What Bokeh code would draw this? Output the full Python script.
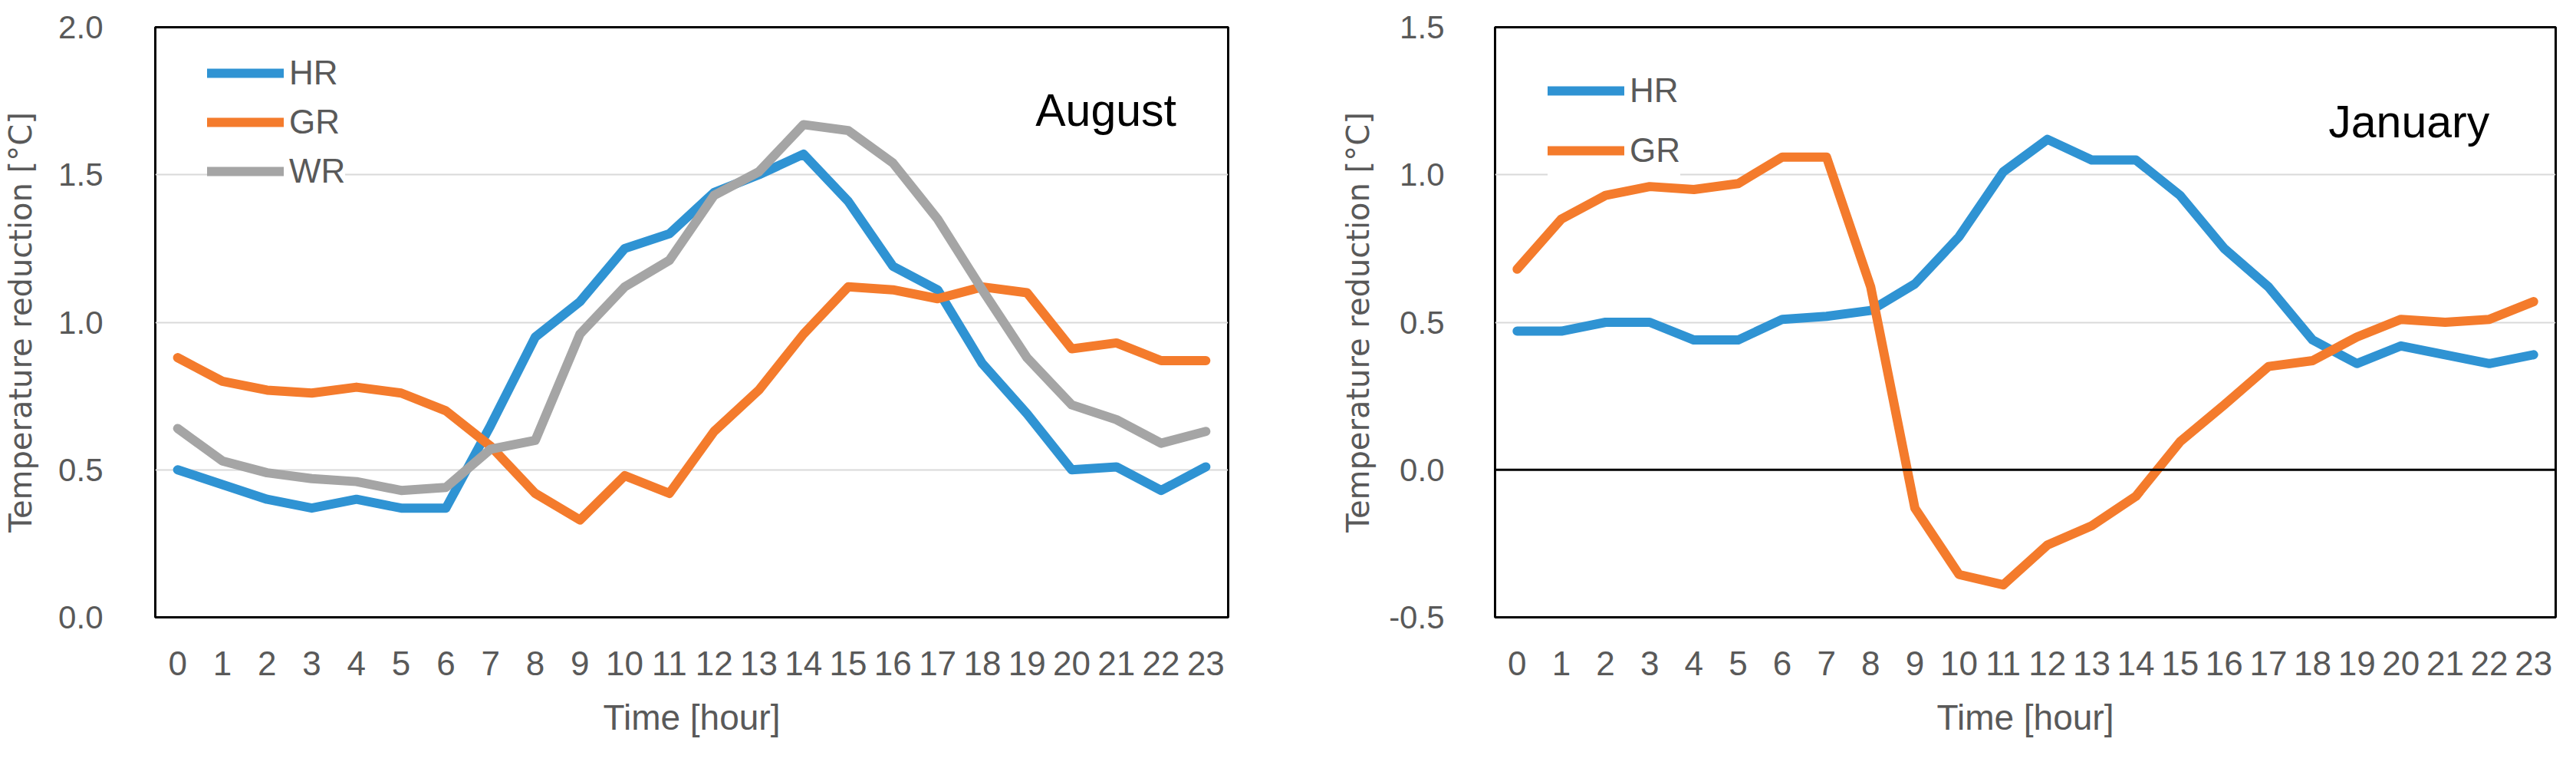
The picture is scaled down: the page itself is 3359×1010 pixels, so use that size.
from bokeh.plotting import figure
from bokeh.models import (FactorRange, Range1d, FixedTicker, NumeralTickFormatter,
                          Legend, LegendItem, Label, Span)
from bokeh.layouts import row
from bokeh.embed import file_html
from bokeh.resources import INLINE

hours = ["0", "1", "2", "3", "4", "5", "6", "7", "8", "9", "10", "11",
         "12", "13", "14", "15", "16", "17", "18", "19", "20", "21", "22", "23"]

aug_hr = [0.50, 0.45, 0.40, 0.37, 0.40, 0.37, 0.37, 0.65, 0.95, 1.07, 1.25, 1.30,
          1.44, 1.50, 1.57, 1.41, 1.19, 1.11, 0.86, 0.69, 0.50, 0.51, 0.43, 0.51]
aug_gr = [0.88, 0.80, 0.77, 0.76, 0.78, 0.76, 0.70, 0.58, 0.42, 0.33, 0.48, 0.42,
          0.63, 0.77, 0.96, 1.12, 1.11, 1.08, 1.12, 1.10, 0.91, 0.93, 0.87, 0.87]
aug_wr = [0.64, 0.53, 0.49, 0.47, 0.46, 0.43, 0.44, 0.57, 0.60, 0.96, 1.12, 1.21,
          1.43, 1.51, 1.67, 1.65, 1.54, 1.35, 1.11, 0.88, 0.72, 0.67, 0.59, 0.63]

jan_hr = [0.47, 0.47, 0.50, 0.50, 0.44, 0.44, 0.51, 0.52, 0.54, 0.63, 0.79, 1.01,
          1.12, 1.05, 1.05, 0.93, 0.75, 0.62, 0.44, 0.36, 0.42, 0.39, 0.36, 0.39]
jan_gr = [0.68, 0.85, 0.93, 0.96, 0.95, 0.97, 1.06, 1.06, 0.62, -0.13, -0.355, -0.39,
          -0.255, -0.19, -0.09, 0.095, 0.22, 0.35, 0.37, 0.45, 0.51, 0.50, 0.51, 0.57]

aug_ticks = [0.0, 0.5, 1.0, 1.5, 2.0]
jan_ticks = [-0.5, 0.0, 0.5, 1.0, 1.5]

BLUE = "#2f93d3"
ORANGE = "#f47b2c"
GRAY = "#a5a5a5"
TXT = "#595959"
FONT = "Liberation Sans"


def make_fig(width, height, ylo, yhi, ticks, grid, mbl, mbr, mbt, mbb):
    p = figure(width=width, height=height, x_range=FactorRange(factors=hours, range_padding=0),
               y_range=Range1d(ylo, yhi), output_backend="svg", toolbar_location=None,
               min_border_left=mbl, min_border_right=mbr, min_border_top=mbt, min_border_bottom=mbb)
    p.background_fill_color = "white"
    p.border_fill_color = "white"
    p.outline_line_color = "black"
    p.outline_line_width = 3
    p.outline_line_alpha = 1.0
    p.xgrid.grid_line_color = None
    p.ygrid.ticker = FixedTicker(ticks=grid)
    p.ygrid.grid_line_color = "#d9d9d9"
    p.ygrid.grid_line_width = 2
    p.yaxis.ticker = FixedTicker(ticks=ticks)
    p.yaxis.formatter = NumeralTickFormatter(format="0.0")
    for ax in (p.xaxis[0], p.yaxis[0]):
        ax.axis_line_color = None
        ax.major_tick_line_color = None
        ax.minor_tick_line_color = None
        ax.major_label_text_font = FONT
        ax.major_label_text_color = TXT
        ax.axis_label_text_color = TXT
        ax.axis_label_text_font_style = "normal"
    p.yaxis.major_label_text_font_size = "42px"
    p.xaxis.major_label_text_font_size = "44px"
    p.xaxis.major_label_standoff = 38
    p.xaxis.axis_label = "Time [hour]"
    p.xaxis.axis_label_text_font = FONT
    p.xaxis.axis_label_text_font_size = "46px"
    p.xaxis.axis_label_standoff = 26
    p.yaxis.axis_label = "Temperature reduction [°C]"
    p.yaxis.axis_label_text_font = "DejaVu Sans"
    p.yaxis.axis_label_text_font_size = "40px"
    return p


def add_line(p, ys, color):
    return p.line(x=hours, y=ys, line_color=color, line_width=12,
                  line_join="round", line_cap="round")


# ---- August ----
p1 = make_fig(1692, 995, 0.0, 2.0, aug_ticks, [0.5, 1.0, 1.5], 202, 91, 35, 179)
p1.yaxis.major_label_standoff = 62
p1.yaxis.axis_label_standoff = 23
r1 = add_line(p1, aug_hr, BLUE)
r2 = add_line(p1, aug_gr, ORANGE)
r3 = add_line(p1, aug_wr, GRAY)
leg1 = Legend(items=[LegendItem(label="HR", renderers=[r1]),
                     LegendItem(label="GR", renderers=[r2]),
                     LegendItem(label="WR", renderers=[r3])],
              location=(68, 549), glyph_width=100, glyph_height=64, label_height=64,
              label_standoff=7, spacing=0, padding=12, margin=0,
              label_text_font=FONT, label_text_font_size="44px", label_text_color=TXT,
              border_line_color=None, background_fill_color="white", background_fill_alpha=1.0)
p1.add_layout(leg1)
p1.add_layout(Label(x=19.69, y=1.718, text="August", text_font=FONT, text_font_size="59px",
                    text_color="black", text_baseline="alphabetic", text_align="left"))

# ---- January ----
p2 = make_fig(1651, 995, -0.5, 1.5, jan_ticks, [0.5, 1.0], 257, 11, 34, 191)
p2.yaxis.major_label_standoff = 60
p2.yaxis.axis_label_standoff = 14
p2.add_layout(Span(location=0.0, dimension="width", line_color="black", line_width=3))
s1 = add_line(p2, jan_hr, BLUE)
s2 = add_line(p2, jan_gr, ORANGE)
leg2 = Legend(items=[LegendItem(label="HR", renderers=[s1]),
                     LegendItem(label="GR", renderers=[s2])],
              location=(69, 569), glyph_width=100, glyph_height=78, label_height=78,
              label_standoff=7, spacing=0, padding=12, margin=0,
              label_text_font=FONT, label_text_font_size="44px", label_text_color=TXT,
              border_line_color=None, background_fill_color="white", background_fill_alpha=1.0)
p2.add_layout(leg2)
p2.add_layout(Label(x=18.86, y=1.178, text="January", text_font=FONT, text_font_size="59px",
                    text_color="black", text_baseline="alphabetic", text_align="left"))

layout = row(p1, p2)
open("out.html", "w").write(file_html(layout, INLINE))
